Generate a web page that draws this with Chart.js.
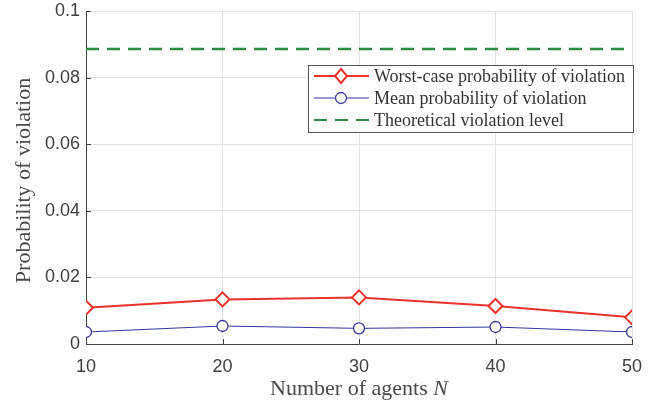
<!DOCTYPE html>
<html lang="en">
<head>
  <meta charset="UTF-8">
  <title>Probability of violation vs number of agents</title>
  <script src="https://cdn.jsdelivr.net/npm/chart.js"></script>
  <style>
    html, body { margin: 0; padding: 0; background: #fff; }
    #wrap { width: 663px; height: 405px; }
  </style>
</head>
<body>
<div id="wrap"><canvas id="chart" width="663" height="405"></canvas></div>

<script>
// data
const agents = [10, 20, 30, 40, 50];
const worstCase = [0.0109, 0.0134, 0.0140, 0.0114, 0.0080];
const meanProb = [0.0036, 0.0054, 0.0047, 0.0051, 0.0036];
const theoretical = 0.0886;
const xTicks = [10, 20, 30, 40, 50];
const yTicks = [0, 0.02, 0.04, 0.06, 0.08, 0.1];

const RED = '#e8322b';
const BLUE = '#35359c';
const GREEN = '#2f8a43';
const AXIS = '#404040';
const GRID = '#e3e3e3';
const SERIF = '"Liberation Serif", "DejaVu Serif", serif';
const SANS = '"Liberation Sans", Arial, sans-serif';

// inward tick marks, axis titles and the boxed legend
const extras = {
  id: 'extras',
  afterDraw(chart) {
    const { ctx, chartArea: a, scales } = chart;
    ctx.save();
    ctx.strokeStyle = AXIS;
    ctx.lineWidth = 1;
    ctx.beginPath();
    xTicks.forEach(v => {
      const x = Math.round(scales.x.getPixelForValue(v)) + 0.5;
      ctx.moveTo(x, a.bottom); ctx.lineTo(x, a.bottom - 5);
    });
    yTicks.forEach(v => {
      const y = Math.round(scales.y.getPixelForValue(v)) + 0.5;
      ctx.moveTo(a.left, y); ctx.lineTo(a.left + 5, y);
    });
    ctx.stroke();

    // x title with italic N
    ctx.fillStyle = '#4a4a4a';
    ctx.textBaseline = 'alphabetic';
    const t1 = 'Number of agents ';
    ctx.font = '22px ' + SERIF;
    const w1 = ctx.measureText(t1).width;
    ctx.font = 'italic 22px ' + SERIF;
    const w2 = ctx.measureText('N').width;
    const x0 = (a.left + a.right) / 2 - (w1 + w2) / 2;
    ctx.font = '22px ' + SERIF;
    ctx.textAlign = 'left';
    ctx.fillText(t1, x0, 395);
    ctx.font = 'italic 22px ' + SERIF;
    ctx.fillText('N', x0 + w1, 395);

    // y title
    ctx.save();
    ctx.translate(30, (a.top + a.bottom) / 2 + 3);
    ctx.rotate(-Math.PI / 2);
    ctx.textAlign = 'center';
    ctx.font = '22px ' + SERIF;
    ctx.fillText('Probability of violation', 0, 0);
    ctx.restore();

    // legend box
    const bx = 308.5, by = 65.5, bw = 325, bh = 67;
    ctx.fillStyle = '#fff';
    ctx.fillRect(bx, by, bw, bh);
    ctx.strokeStyle = '#555';
    ctx.lineWidth = 1;
    ctx.strokeRect(bx, by, bw, bh);
    const rows = [
      { label: 'Worst-case probability of violation', color: RED, width: 2, dash: [], marker: 'diamond', y: 76 },
      { label: 'Mean probability of violation', color: BLUE, width: 1, dash: [], marker: 'circle', y: 98 },
      { label: 'Theoretical violation level', color: GREEN, width: 2, dash: [13, 8], marker: null, y: 120 }
    ];
    rows.forEach(r => {
      ctx.strokeStyle = r.color;
      ctx.lineWidth = r.width;
      ctx.setLineDash(r.dash);
      ctx.beginPath();
      ctx.moveTo(314, r.y); ctx.lineTo(369, r.y);
      ctx.stroke();
      ctx.setLineDash([]);
      if (r.marker === 'diamond') {
        ctx.fillStyle = '#fff';
        ctx.lineWidth = 2;
        ctx.beginPath();
        ctx.moveTo(341, r.y - 7); ctx.lineTo(347, r.y); ctx.lineTo(341, r.y + 7); ctx.lineTo(335, r.y);
        ctx.closePath(); ctx.fill(); ctx.stroke();
      } else if (r.marker === 'circle') {
        ctx.fillStyle = '#fff';
        ctx.lineWidth = 1.3;
        ctx.beginPath();
        ctx.arc(341, r.y, 5.5, 0, Math.PI * 2);
        ctx.fill(); ctx.stroke();
      }
      ctx.fillStyle = '#333';
      ctx.font = '18px ' + SERIF;
      ctx.textAlign = 'left';
      ctx.textBaseline = 'middle';
      ctx.fillText(r.label, 374, r.y + 1);
    });
    ctx.restore();
  }
};

new Chart(document.getElementById('chart'), {
  type: 'line',
  data: {
    datasets: [
      {
        label: 'Worst-case probability of violation',
        data: agents.map((a, i) => ({ x: a, y: worstCase[i] })),
        borderColor: RED,
        backgroundColor: '#fff',
        borderWidth: 2,
        pointStyle: 'rectRot',
        pointRadius: 7,
        pointBorderWidth: 2,
        tension: 0
      },
      {
        label: 'Mean probability of violation',
        data: agents.map((a, i) => ({ x: a, y: meanProb[i] })),
        borderColor: BLUE,
        backgroundColor: '#fff',
        borderWidth: 1,
        pointStyle: 'circle',
        pointRadius: 5.5,
        pointBorderWidth: 1.3,
        tension: 0
      },
      {
        label: 'Theoretical violation level',
        data: [{ x: agents[0], y: theoretical }, { x: agents[agents.length - 1], y: theoretical }],
        borderColor: GREEN,
        borderWidth: 2.5,
        borderDash: [13, 8],
        pointRadius: 0,
        tension: 0
      }
    ]
  },
  options: {
    responsive: false,
    animation: false,
    devicePixelRatio: 1,
    layout: { padding: { top: 11, right: 31, left: 0, bottom: 0 } },
    plugins: { legend: { display: false }, tooltip: { enabled: false } },
    scales: {
      x: {
        type: 'linear',
        min: 10,
        max: 50,
        afterFit: s => { s.height = 61; s.paddingLeft = 0; s.paddingRight = 0; },
        afterBuildTicks: s => { s.ticks = xTicks.map(v => ({ value: v })); },
        grid: { color: GRID, drawTicks: false },
        border: { color: AXIS, width: 1 },
        ticks: { color: AXIS, padding: 12, font: { family: SANS, size: 18 }, maxRotation: 0 }
      },
      y: {
        min: 0,
        max: 0.1,
        afterFit: s => { s.width = 86; s.paddingTop = 0; s.paddingBottom = 0; },
        afterBuildTicks: s => { s.ticks = yTicks.map(v => ({ value: v })); },
        grid: { color: GRID, drawTicks: false },
        border: { color: AXIS, width: 1 },
        ticks: { color: AXIS, padding: 6, font: { family: SANS, size: 18 }, callback: v => String(+v.toFixed(2)) }
      }
    }
  },
  plugins: [extras]
});
</script>
</body>
</html>
